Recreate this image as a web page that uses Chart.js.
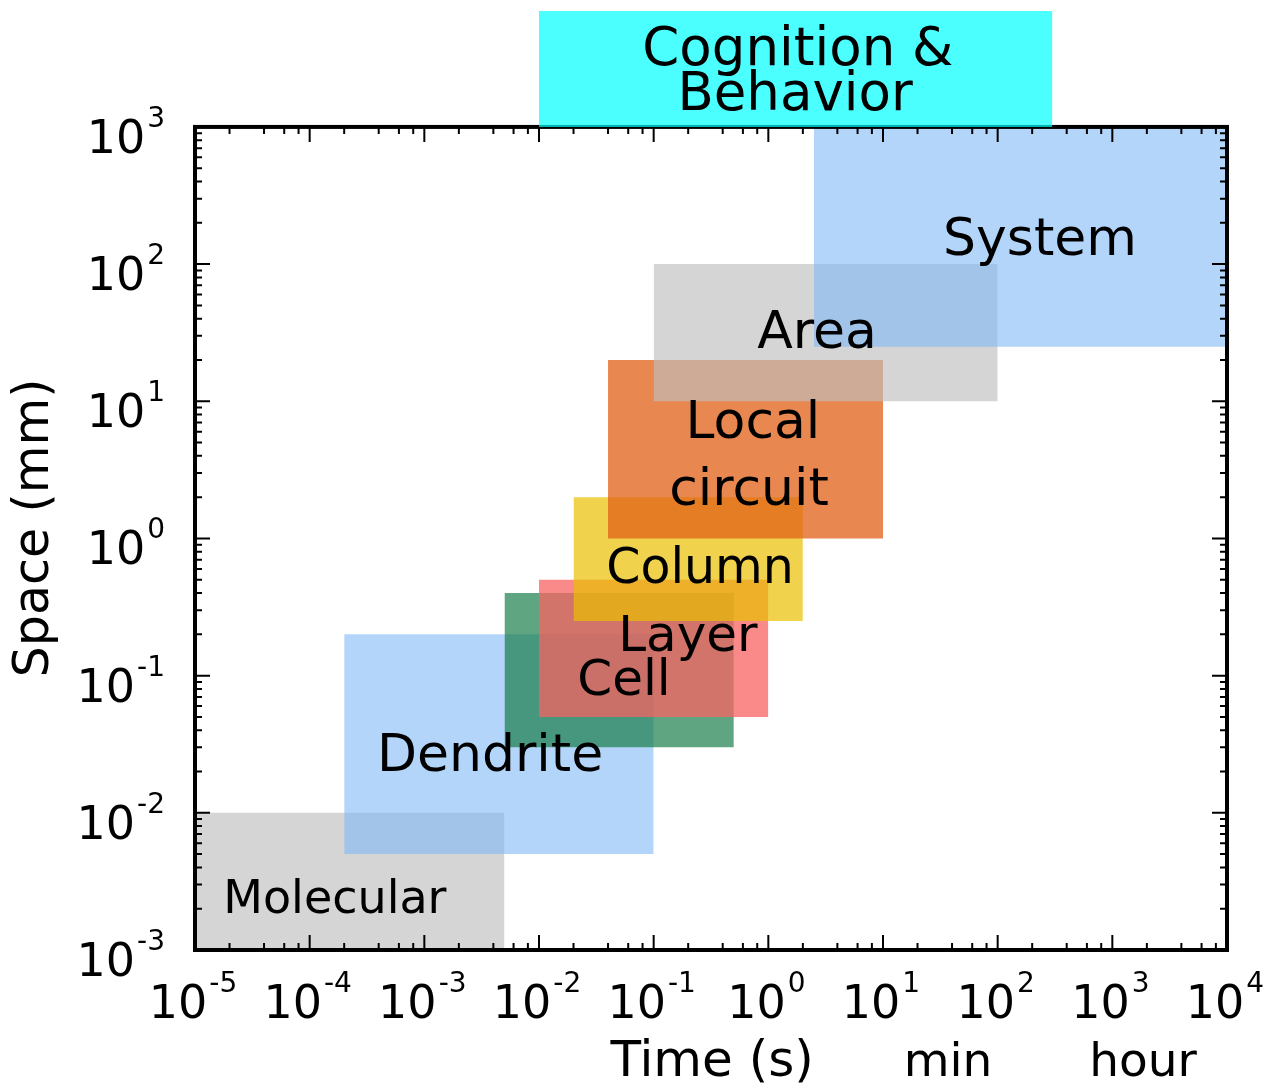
<!DOCTYPE html>
<html>
<head>
<meta charset="utf-8">
<title>Spatial and temporal scales</title>
<script src="https://cdn.jsdelivr.net/npm/chart.js@4/dist/chart.umd.min.js"></script>
<style>
  body { margin: 0; background: #fff; }
  #wrap { width: 1273px; height: 1086px; position: relative; }
</style>
</head>
<body>
<div id="wrap"><canvas id="scales"></canvas></div>
<script>
// levels of organisation, with their time (s) and space (mm) ranges
let levels = ['Molecular', 'Dendrite', 'Cell', 'Layer', 'Column', 'Local circuit', 'Area', 'System', 'Cognition & Behavior'];
let timeFrom = [1e-5, 2e-4, 5e-3, 1e-2, 2e-2, 4e-2, 1e-1, 2.5, 1e-2];
let timeTo = [5e-3, 1e-1, 0.5, 1, 2, 10, 100, 1e4, 300];
let spaceFrom = [1e-3, 5e-3, 0.03, 0.05, 0.25, 1, 10, 25, 1e3];
let spaceTo = [1e-2, 0.2, 0.4, 0.5, 2, 20, 100, 1e3, 7000];
let colors = [
    'rgba(190,190,190,0.65)',
    'rgba(128,185,247,0.6)',
    'rgba(20,122,70,0.68)',
    'rgba(248,99,99,0.75)',
    'rgba(234,191,0,0.7)',
    'rgba(224,96,22,0.75)',
    'rgba(190,190,190,0.65)',
    'rgba(128,185,247,0.6)',
    'rgba(0,255,255,0.7)'
];

// axis ticks (exponents of 10)
let xTicks = [-5, -4, -3, -2, -1, 0, 1, 2, 3, 4];
let yTicks = [-3, -2, -1, 0, 1, 2, 3];
let xMinor = [2, 4, 6, 8];
let yMinor = [2, 3, 4, 5, 6, 7, 8, 9];

// text inside the boxes, placed at (time, space)
let labelText = ['Molecular', 'Dendrite', 'Cell', 'Layer', 'Column', 'Local', 'circuit', 'Area', 'System', 'Cognition &', 'Behavior'];
let labelX = [1.66e-4, 3.74e-3, 0.0551, 0.199, 0.254, 0.734, 0.678, 2.66, 234, 1.81, 1.71];
let labelY = [1.86e-3, 0.0202, 0.0723, 0.151, 0.474, 5.4, 1.75, 24.5, 117, 2830, 1330];
let labelSize = [46, 52, 50, 50, 49, 52, 52, 52, 52, 53, 53];

// units under the time axis
let unitText = ['Time (s)', 'min', 'hour'];
let unitX = [0.323, 36.9, 1850];

let font = "'DejaVu Sans', 'Liberation Sans', sans-serif";

// one filled rectangle per level: top edge filled down to the lower bound
let datasets = levels.map((name, i) => ({
    label: name,
    data: [{x: timeFrom[i], y: spaceTo[i]}, {x: timeTo[i], y: spaceTo[i]}],
    fill: {value: spaceFrom[i]},
    backgroundColor: colors[i],
    borderWidth: 0,
    borderColor: 'rgba(0,0,0,0)',
    pointRadius: 0,
    order: levels.length - i
}));

function pow10(ctx, exp, x, y, align) {
    ctx.font = '46px ' + font;
    let wBase = ctx.measureText('10').width;
    ctx.font = '28px ' + font;
    let wExp = ctx.measureText(String(exp)).width;
    let total = wBase + 2 + wExp;
    let left = align == 'right' ? x - total : x - total / 2;
    ctx.textAlign = 'left';
    ctx.textBaseline = 'alphabetic';
    ctx.font = '46px ' + font;
    ctx.fillText('10', left, y);
    ctx.font = '28px ' + font;
    ctx.fillText(String(exp), left + wBase + 2, y - 26);
}

//frame with inward ticks, drawn under the cognition box
let framePlugin = {
    id: 'frame',
    afterDatasetDraw(chart, args) {
        if (args.index != levels.indexOf('System')) return;
        let ctx = chart.ctx;
        let xs = chart.scales.x, ys = chart.scales.y;
        let l = xs.getPixelForValue(10 ** xTicks[0]);
        let r = xs.getPixelForValue(10 ** xTicks[xTicks.length - 1]);
        let b = ys.getPixelForValue(10 ** yTicks[0]);
        let t = ys.getPixelForValue(10 ** yTicks[yTicks.length - 1]);
        ctx.save();
        ctx.strokeStyle = '#000';
        ctx.lineWidth = 2;
        ctx.beginPath();
        xTicks.forEach((e, k) => {
            [1].concat(xMinor).forEach(m => {
                if (k == xTicks.length - 1 && m > 1) return;
                let px = xs.getPixelForValue(m * 10 ** e);
                let len = m == 1 ? 15 : 7;
                ctx.moveTo(px, b); ctx.lineTo(px, b - len);
                ctx.moveTo(px, t); ctx.lineTo(px, t + len);
            });
        });
        yTicks.forEach((e, k) => {
            [1].concat(yMinor).forEach(m => {
                if (k == yTicks.length - 1 && m > 1) return;
                let py = ys.getPixelForValue(m * 10 ** e);
                let len = m == 1 ? 15 : 7;
                ctx.moveTo(l, py); ctx.lineTo(l + len, py);
                ctx.moveTo(r, py); ctx.lineTo(r - len, py);
            });
        });
        ctx.stroke();
        ctx.lineWidth = 4;
        ctx.strokeRect(l, t, r - l, b - t);
        ctx.restore();
    }
};

//all text
let textPlugin = {
    id: 'texts',
    afterDatasetsDraw(chart) {
        let ctx = chart.ctx;
        let xs = chart.scales.x, ys = chart.scales.y;
        let l = xs.getPixelForValue(10 ** xTicks[0]);
        let b = ys.getPixelForValue(10 ** yTicks[0]);
        ctx.save();
        ctx.fillStyle = '#000';
        xTicks.forEach(e => pow10(ctx, e, xs.getPixelForValue(10 ** e) - 2, b + 68, 'center'));
        yTicks.forEach(e => pow10(ctx, e, l - 30, ys.getPixelForValue(10 ** e) + 26, 'right'));

        ctx.textAlign = 'center';
        ctx.textBaseline = 'alphabetic';
        labelText.forEach((s, i) => {
            ctx.font = labelSize[i] + 'px ' + font;
            ctx.fillText(s, xs.getPixelForValue(labelX[i]), ys.getPixelForValue(labelY[i]));
        });

        ctx.font = '49px ' + font;
        unitText.forEach((s, i) => {
            ctx.font = (i == 0 ? 50 : 47) + 'px ' + font;
            ctx.fillText(s, xs.getPixelForValue(unitX[i]), b + 126);
        });

        ctx.font = '49px ' + font;
        ctx.translate(35, 528);
        ctx.rotate(-Math.PI / 2);
        ctx.textBaseline = 'middle';
        ctx.fillText('Space (mm)', 0, 0);
        ctx.restore();
    }
};

let ctx = document.getElementById('scales').getContext('2d');
let myChart = new Chart(ctx, {
    type: 'line',
    data: {datasets: datasets},
    options: {
        responsive: true,
        maintainAspectRatio: false,
        animation: false,
        layout: {padding: {left: 195, right: 46, top: 11, bottom: 136}},
        plugins: {
            legend: {display: false},
            tooltip: {enabled: false}
        },
        scales: {
            x: {type: 'logarithmic', min: 1e-5, max: 1e4, display: false},
            y: {type: 'logarithmic', min: 1e-3, max: 7000, display: false}
        }
    },
    plugins: [framePlugin, textPlugin]
});
</script>
</body>
</html>
